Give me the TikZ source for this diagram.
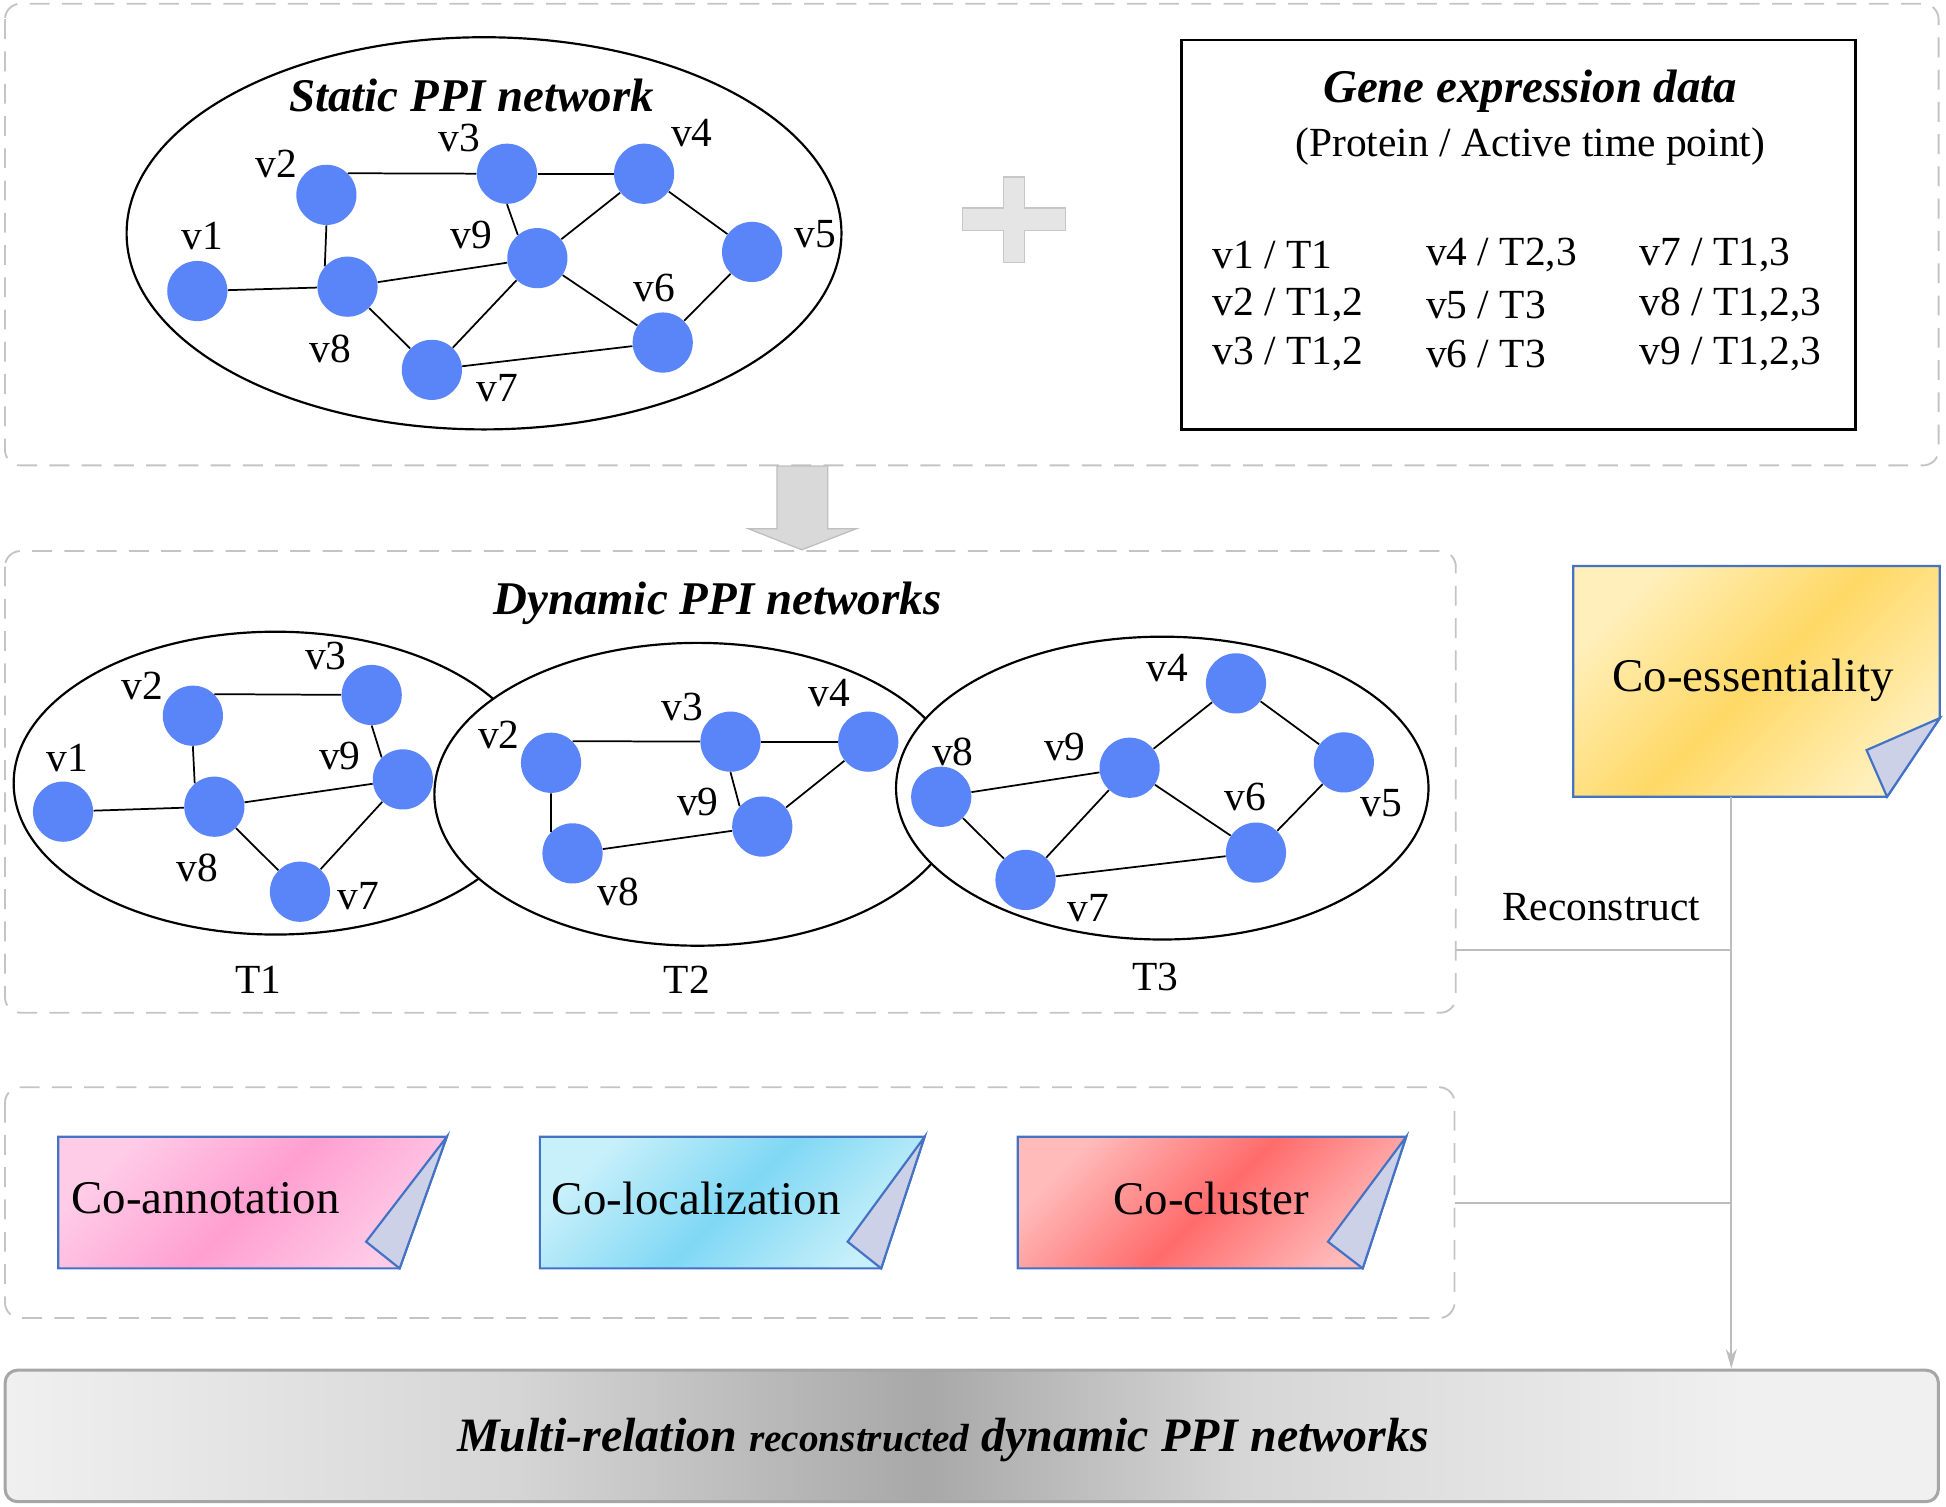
\documentclass[tikz,border=0pt]{standalone}
\usepackage{fontspec}
\setmainfont{Liberation Serif}
\usetikzlibrary{arrows.meta}

\definecolor{nodeblue}{HTML}{5A85F8}
\definecolor{panelgray}{HTML}{C4C4C4}
\definecolor{linkgray}{HTML}{BDBDBD}
\definecolor{noteblue}{HTML}{4472C4}
\definecolor{foldgray}{HTML}{CDD1E8}
\definecolor{yellowlight}{HTML}{FFEFBA}
\definecolor{yellowdark}{HTML}{FFD966}
\definecolor{pinklight}{HTML}{FFCCE8}
\definecolor{pinkdark}{HTML}{FF9FD0}
\definecolor{cyanlight}{HTML}{C8F0FA}
\definecolor{cyandark}{HTML}{7FD8F4}
\definecolor{redlight}{HTML}{FFBABA}
\definecolor{reddark}{HTML}{FF6B6B}
\definecolor{barlight}{HTML}{F0F0F0}
\definecolor{barmid}{HTML}{D6D6D6}
\definecolor{bardark}{HTML}{A8A8A8}

\pgfdeclarehorizontalshading{barshade}{100bp}{color(0bp)=(barlight); color(25bp)=(barlight);
  color(38bp)=(barmid); color(48.8bp)=(bardark); color(57bp)=(barmid);
  color(70bp)=(barlight); color(100bp)=(barlight)}

\begin{document}
\begin{tikzpicture}[x=0.02cm, y=-0.02cm,
  ppi_vertex/.style={circle, fill=nodeblue, minimum size=0.97cm, inner sep=0pt},
  ppi_label/.style={font=\fontsize{19}{21}\selectfont, inner sep=0pt},
  ppi_ring/.style={draw=black, fill=white, line width=1pt},
  ppi_edge/.style={line width=0.8pt},
  head_text/.style={font=\fontsize{21.5}{24}\selectfont\bfseries\itshape, inner sep=0pt},
  note_text/.style={font=\fontsize{21.5}{24}\selectfont, inner sep=0pt},
  dash_panel/.style={draw=panelgray, line width=0.03cm, dash pattern=on 0.32cm off 0.2cm, rounded corners=0.25cm},
  note_box/.style={draw=noteblue, line width=1pt, shading angle=45},
  note_fold/.style={draw=noteblue, fill=foldgray, line width=1pt},
  gray_link/.style={draw=linkgray, line width=0.9pt}]

\useasboundingbox (0,0) rectangle (1568,1214);

% panels
\draw[dash_panel] (4,3) rectangle (1562,375);
\draw[dash_panel] (4,444) rectangle (1173,816);
\draw[dash_panel] (4,876) rectangle (1172,1062);

% static network
\draw[ppi_ring] (390,188) ellipse [x radius=288, y radius=158];
\node[head_text] (st) at (380,77) {Static PPI network};

\node[ppi_vertex] (s1) at (159,234.5) {};
\node[ppi_vertex] (s2) at (263,157) {};
\node[ppi_vertex] (s3) at (408.5,140) {};
\node[ppi_vertex] (s4) at (519,140) {};
\node[ppi_vertex] (s5) at (606,203) {};
\node[ppi_vertex] (s6) at (534,276) {};
\node[ppi_vertex] (s7) at (348,298) {};
\node[ppi_vertex] (s8) at (280,231) {};
\node[ppi_vertex] (s9) at (433,208) {};

\node[ppi_label] (ls1) at (163,190) {v1};
\node[ppi_label] (ls2) at (222.5,132) {v2};
\node[ppi_label] (ls3) at (370,111) {v3};
\node[ppi_label] (ls4) at (557.5,107) {v4};
\node[ppi_label] (ls5) at (657,189) {v5};
\node[ppi_label] (ls6) at (527,232) {v6};
\node[ppi_label] (ls7) at (401,313) {v7};
\node[ppi_label] (ls8) at (266,281) {v8};
\node[ppi_label] (ls9) at (380,189) {v9};

\draw[ppi_edge] (s2.45) -- (s3);
\draw[ppi_edge] (s3) -- (s4);
\draw[ppi_edge] (s2.south) -- (s8.138);
\draw[ppi_edge] (s1) -- (s8);
\draw[ppi_edge] (s8) -- (s9);
\draw[ppi_edge] (s3.south) -- (s9.130);
\draw[ppi_edge] (s4) -- (s9);
\draw[ppi_edge] (s4) -- (s5);
\draw[ppi_edge] (s9) -- (s6);
\draw[ppi_edge] (s9) -- (s7);
\draw[ppi_edge] (s8) -- (s7);
\draw[ppi_edge] (s7) -- (s6);
\draw[ppi_edge] (s6) -- (s5);

% plus sign
\draw[fill=black!10, draw=black!22, line width=0.6pt]
  (808.5,142.5) -- (825.5,142.5) -- (825.5,167.5) -- (858.5,167.5) -- (858.5,186)
  -- (825.5,186) -- (825.5,211.5) -- (808.5,211.5) -- (808.5,186) -- (775.5,186)
  -- (775.5,167.5) -- (808.5,167.5) -- cycle;

% gene expression data
\node[draw=black, line width=1.1pt, minimum width=10.86cm, minimum height=6.28cm] (gene) at (1223.5,189) {};
\node[head_text] (gt) at (1233,73.4) {Gene expression data};
\node[ppi_label] (gs) at (1233,118) {(Protein / Active time point)};
\node[ppi_label, anchor=west] (g1) at (976.6,205.7) {v1 / T1};
\node[ppi_label, anchor=west] (g2) at (976.6,246) {v2 / T1,2};
\node[ppi_label, anchor=west] (g3) at (976.6,285) {v3 / T1,2};
\node[ppi_label, anchor=west] (g4) at (1148.8,205.7) {v4 / T2,3};
\node[ppi_label, anchor=west] (g5) at (1148.8,246) {v5 / T3};
\node[ppi_label, anchor=west] (g6) at (1148.8,285) {v6 / T3};
\node[ppi_label, anchor=west] (g7) at (1320.7,205.7) {v7 / T1,3};
\node[ppi_label, anchor=west] (g8) at (1320.7,246) {v8 / T1,2,3};
\node[ppi_label, anchor=west] (g9) at (1320.7,285) {v9 / T1,2,3};

% block arrow
\draw[fill=black!15, draw=black!25, line width=0.6pt]
  (626,375.5) -- (667,375.5) -- (667,426) -- (690,426) -- (646,443)
  -- (603,426) -- (626,426) -- cycle;

% dynamic networks
\node[head_text] (dt) at (578,486) {Dynamic PPI networks};
\draw[ppi_ring] (222,631) ellipse [x radius=211, y radius=122];
\draw[ppi_ring] (562,640) ellipse [x radius=212, y radius=122];
\draw[ppi_ring] (936.5,635) ellipse [x radius=214.5, y radius=122];

\node[ppi_vertex] (a1) at (50.8,654) {};
\node[ppi_vertex] (a2) at (155.4,576.7) {};
\node[ppi_vertex] (a3) at (299.5,560) {};
\node[ppi_vertex] (a7) at (241.7,718.5) {};
\node[ppi_vertex] (a8) at (172.7,650) {};
\node[ppi_vertex] (a9) at (324.6,628) {};
\node[ppi_label] (la1) at (54,611) {v1};
\node[ppi_label] (la2) at (114.5,553) {v2};
\node[ppi_label] (la3) at (262.5,528.5) {v3};
\node[ppi_label] (la7) at (288.6,722) {v7};
\node[ppi_label] (la8) at (158.9,699) {v8};
\node[ppi_label] (la9) at (273.8,609) {v9};
\node[ppi_label] (t1) at (208,789.7) {T1};

\draw[ppi_edge] (a2.45) -- (a3);
\draw[ppi_edge] (a2.south) -- (a8.130);
\draw[ppi_edge] (a1) -- (a8);
\draw[ppi_edge] (a8) -- (a9);
\draw[ppi_edge] (a3.south) -- (a9.134);
\draw[ppi_edge] (a9) -- (a7);
\draw[ppi_edge] (a8) -- (a7);

\node[ppi_vertex] (b2) at (444,614.6) {};
\node[ppi_vertex] (b3) at (588.6,597.6) {};
\node[ppi_vertex] (b4) at (699.6,597.6) {};
\node[ppi_vertex] (b8) at (461.3,687.6) {};
\node[ppi_vertex] (b9) at (614.2,666) {};
\node[ppi_label] (lb2) at (402,591.9) {v2};
\node[ppi_label] (lb3) at (550,569.5) {v3};
\node[ppi_label] (lb4) at (668.5,558.8) {v4};
\node[ppi_label] (lb8) at (498.3,718.5) {v8};
\node[ppi_label] (lb9) at (562.4,645.9) {v9};
\node[ppi_label] (t2) at (553.5,789.7) {T2};

\draw[ppi_edge] (b2.45) -- (b3);
\draw[ppi_edge] (b3) -- (b4);
\draw[ppi_edge] (b2.south) -- (b8.135);
\draw[ppi_edge] (b8) -- (b9);
\draw[ppi_edge] (b3.south) -- (b9.138);
\draw[ppi_edge] (b4) -- (b9);

\node[ppi_vertex] (c4) at (995.9,550.6) {};
\node[ppi_vertex] (c5) at (1082.8,614.3) {};
\node[ppi_vertex] (c6) at (1012,687) {};
\node[ppi_vertex] (c7) at (826.3,709) {};
\node[ppi_vertex] (c8) at (758.4,642) {};
\node[ppi_vertex] (c9) at (910.2,618.6) {};
\node[ppi_label] (lc4) at (940.4,538.5) {v4};
\node[ppi_label] (lc5) at (1113,647.3) {v5};
\node[ppi_label] (lc6) at (1003.6,642) {v6};
\node[ppi_label] (lc7) at (877.2,731.9) {v7};
\node[ppi_label] (lc8) at (767.7,605.7) {v8};
\node[ppi_label] (lc9) at (858,601.7) {v9};
\node[ppi_label] (t3) at (931,787) {T3};

\draw[ppi_edge] (c8) -- (c9);
\draw[ppi_edge] (c9) -- (c4);
\draw[ppi_edge] (c4) -- (c5);
\draw[ppi_edge] (c9) -- (c6);
\draw[ppi_edge] (c9) -- (c7);
\draw[ppi_edge] (c8) -- (c7);
\draw[ppi_edge] (c7) -- (c6);
\draw[ppi_edge] (c6) -- (c5);

% relation notes
\draw[note_box, left color=yellowlight, right color=yellowlight, middle color=yellowdark, shading angle=45]
  (1267.7,456) -- (1563,456) -- (1563,578.6) -- (1520.5,642) -- (1267.7,642) -- cycle;
\draw[note_fold] (1563,578.6) -- (1504,604.4) -- (1520.5,642) -- cycle;
\node[note_text] (ess) at (1412.7,548) {Co-essentiality};

\draw[note_box, left color=pinklight, right color=pinklight, middle color=pinkdark, shading angle=45]
  (47,916) -- (360,916) -- (322,1022) -- (47,1022) -- cycle;
\draw[note_fold] (360,916) -- (295,1000.5) -- (322,1022) -- cycle;
\node[note_text] (ann) at (165.5,965.6) {Co-annotation};

\draw[note_box, left color=cyanlight, right color=cyanlight, middle color=cyandark, shading angle=45]
  (435,916) -- (745,916) -- (710,1022) -- (435,1022) -- cycle;
\draw[note_fold] (745,916) -- (683,1000.5) -- (710,1022) -- cycle;
\node[note_text] (loc) at (561,965.6) {Co-localization};

\draw[note_box, left color=redlight, right color=redlight, middle color=reddark, shading angle=45]
  (820,916) -- (1133,916) -- (1098,1022) -- (820,1022) -- cycle;
\draw[note_fold] (1133,916) -- (1070,1000.5) -- (1098,1022) -- cycle;
\node[note_text] (clu) at (976,965.6) {Co-cluster};

% result
\node[shading=barshade, draw=black!35, line width=1.4pt, rounded corners=0.2cm,
  minimum width=31.16cm, minimum height=2.12cm] (multi) at (783,1157) {};
\node[head_text, font=\fontsize{22}{24}\selectfont\bfseries\itshape] (mt) at (760,1160)
  {Multi-relation {\fontsize{18}{20}\selectfont reconstructed} dynamic PPI networks};

% links
\coordinate (ess_foot) at (1395,642);
\coordinate (mid_east) at (1173,765.5);
\coordinate (mid_join) at (1395,765.5);
\coordinate (low_east) at (1172,969);
\coordinate (low_join) at (1395,969);
\node[ppi_label] (recon) at (1290,730.6) {Reconstruct};

\draw[gray_link] (mid_east) -- (mid_join);
\draw[gray_link] (low_east) -- (low_join);
\draw[gray_link, -{Stealth[length=9pt, width=5pt]}] (ess_foot) -- (multi.north -| ess_foot);

\end{tikzpicture}
\end{document}
